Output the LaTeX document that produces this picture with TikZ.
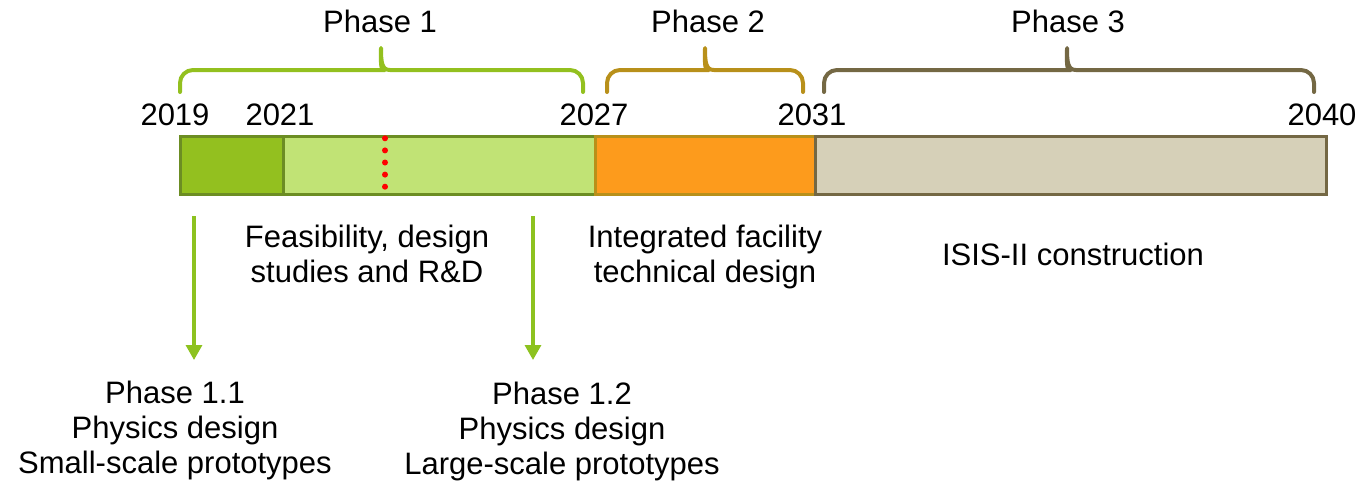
\documentclass[tikz,border=0pt]{standalone}
\usepackage{fontspec}
\setmainfont{Liberation Sans}
\usetikzlibrary{arrows.meta}
\definecolor{gdark}{HTML}{93C01F}
\definecolor{glight}{HTML}{C1E375}
\definecolor{gborder}{HTML}{6C8D23}
\definecolor{ofill}{HTML}{FD9B1C}
\definecolor{oborder}{HTML}{B8901A}
\definecolor{tfill}{HTML}{D6D0B8}
\definecolor{tborder}{HTML}{746844}
\definecolor{arrowg}{HTML}{8DC21F}
\newcommand\phbrace[4]{%
  \draw[#4, line width=4pt, line cap=round, line join=round, rounded corners=13pt]
    (#1,92) -- (#1,70) -- (#2-9,70) [sharp corners] .. controls (#2-1,70) and (#2,63) .. (#2,48)
    .. controls (#2,63) and (#2+1,70) .. (#2+9,70) [rounded corners=13pt] -- (#3,70) -- (#3,92);}
\begin{document}
\begin{tikzpicture}[x=1pt,y=-1pt,
  lbl/.style={font=\fontsize{31}{35}\selectfont, inner sep=0pt, text=black},
  seg/.style={line width=3.3pt, minimum height=58pt, inner sep=0pt, anchor=west},
  conn/.style={arrowg, line width=3.3pt, -{Triangle[width=16pt,length=15pt]}}]
\useasboundingbox (0,0) rectangle (1358,490);
% phase labels
\node[lbl, anchor=base] (p1) at (380,32) {Phase 1};
\node[lbl, anchor=base] (p2) at (708,32) {Phase 2};
\node[lbl, anchor=base] (p3) at (1068,32) {Phase 3};
% braces
\phbrace{180}{381}{583}{gdark}
\phbrace{607}{705}{803}{oborder}
\phbrace{824}{1067}{1314}{tborder}
% years
\node[lbl, anchor=base] (y19) at (175,125) {2019};
\node[lbl, anchor=base] (y21) at (280,125) {2021};
\node[lbl, anchor=base] (y27) at (594,125) {2027};
\node[lbl, anchor=base] (y31) at (812,125) {2031};
\node[lbl, anchor=base] (y40) at (1322,125) {2040};
% bar segments
\node[seg, fill=gdark, draw=gborder, minimum width=103pt] (s1) at (179,165.5) {};
\node[seg, fill=glight, draw=gborder, minimum width=312pt] (s2) at (282,165.5) {};
\node[seg, fill=ofill, draw=oborder, minimum width=220pt] (s3) at (594,165.5) {};
\node[seg, fill=tfill, draw=tborder, minimum width=511pt] (s4) at (814,165.5) {};
% red dots
\foreach \yy in {138.3,150.4,162.5,174.6,186.7}
  \fill[red] (385,\yy) circle (3pt);
% descriptions
\node[lbl, anchor=north, align=center] (d1) at (367,224.4) {Feasibility, design\\studies and R\&D};
\node[lbl, anchor=north, align=center] (d2) at (705,224.4) {Integrated facility\\technical design};
\node[lbl, anchor=base] (d3) at (1073,265) {ISIS-II construction};
\node[lbl, anchor=north, align=center] (ph11) at (175,380.4) {Phase 1.1\\Physics design\\Small-scale prototypes};
\node[lbl, anchor=north, align=center] (ph12) at (562,382) {Phase 1.2\\Physics design\\Large-scale prototypes};
% arrows
\coordinate (a1s) at (194,216);
\coordinate (a1e) at (194,360);
\coordinate (a2s) at (533,216);
\coordinate (a2e) at (533,360);
\draw[conn] (a1s) -- (a1e);
\draw[conn] (a2s) -- (a2e);
\end{tikzpicture}
\end{document}
